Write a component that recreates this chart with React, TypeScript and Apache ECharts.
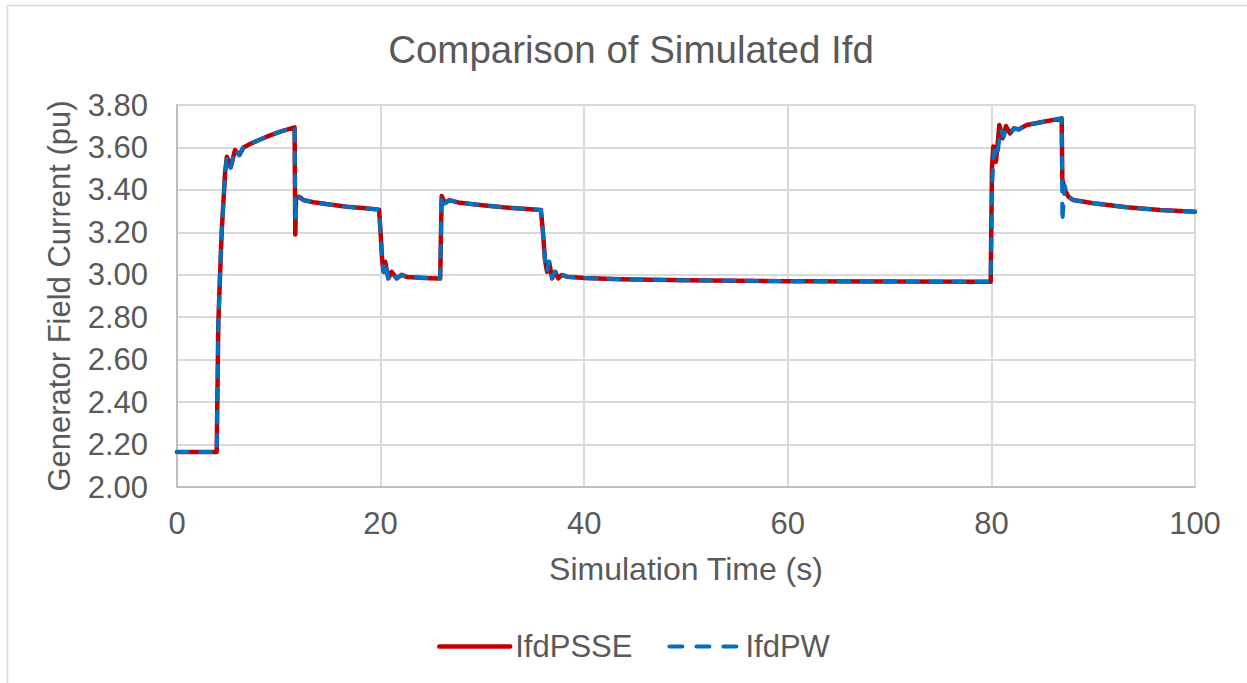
import React, { useEffect, useRef } from "react";
import * as echarts from "echarts";

const titleText = "Comparison of Simulated Ifd";
const xName = "Simulation Time (s)";
const yName = "Generator Field Current (pu)";
const xTicks = [0, 20, 40, 60, 80, 100];
const yTicks = [2.0, 2.2, 2.4, 2.6, 2.8, 3.0, 3.2, 3.4, 3.6, 3.8];

const tPSSE = [
  0, 3.9, 4.06, 4.22, 4.39, 4.72, 4.9, 5.27, 5.7, 6.12, 6.52, 7.17, 8.0, 9.14, 10.3, 11.55, 11.62, 11.7, 12.0, 12.4,
  13.4, 15.0, 16.7, 18.5, 19.85, 20.0, 20.15, 20.3, 20.45, 20.76, 21.09, 21.58, 22.07, 22.56, 23.5, 24.85, 25.85,
  26.0, 26.33, 26.75, 27.8, 30.0, 32.05, 34.0, 35.75, 35.95, 36.15, 36.35, 36.55, 36.85, 37.15, 37.45, 37.8, 38.3,
  40, 43.5, 50, 60, 70, 79.93, 80.06, 80.19, 80.45, 80.78, 81.1, 81.43, 81.83, 82.22, 82.65, 83.47, 85.0, 86.9,
  86.97, 87.23, 87.56, 88.05, 90.0, 93.3, 96.56, 100,
];
const vPSSE = [
  2.165, 2.165, 2.77, 2.99, 3.2, 3.48, 3.556, 3.506, 3.588, 3.564, 3.6, 3.616, 3.634, 3.657, 3.677, 3.695, 3.19, 3.365,
  3.368, 3.352, 3.342, 3.331, 3.321, 3.313, 3.307, 3.2, 3.07, 3.014, 3.061, 2.983, 3.014, 2.983, 3.0, 2.99, 2.987,
  2.984, 2.982, 3.371, 3.337, 3.352, 3.339, 3.328, 3.318, 3.311, 3.305, 3.2, 3.07, 3.014, 3.061, 2.983, 3.014, 2.983,
  2.999, 2.991, 2.985, 2.979, 2.974, 2.97, 2.968, 2.967, 3.51, 3.604, 3.533, 3.706, 3.643, 3.701, 3.666, 3.69, 3.685,
  3.706, 3.72, 3.737, 3.447, 3.4, 3.368, 3.352, 3.337, 3.318, 3.305, 3.297,
];

const tPW = [
  0, 3.9, 4.06, 4.22, 4.39, 4.72, 4.9, 5.27, 5.7, 6.12, 6.52, 7.17, 8.0, 9.14, 10.3, 11.55, 11.62, 11.75, 12.0, 12.4,
  13.4, 15.0, 16.7, 18.5, 19.85, 20.0, 20.15, 20.3, 20.45, 20.76, 21.09, 21.58, 22.07, 22.56, 23.5, 24.85, 25.85,
  26.0, 26.33, 26.75, 27.8, 30.0, 32.05, 34.0, 35.75, 35.95, 36.15, 36.35, 36.55, 36.85, 37.15, 37.45, 37.8, 38.3,
  40, 43.5, 50, 60, 70, 79.93, 80.1, 80.3, 80.55, 80.9, 81.2, 81.5, 81.9, 82.3, 82.65, 83.47, 85.0, 86.9,
  86.97, 87.2, 87.56, 88.05, 90.0, 93.3, 96.56, 100,
];
const vPW = [
  2.165, 2.165, 2.77, 2.99, 3.2, 3.48, 3.556, 3.506, 3.588, 3.564, 3.6, 3.616, 3.634, 3.657, 3.677, 3.695, 3.26, 3.35,
  3.37, 3.352, 3.342, 3.331, 3.321, 3.313, 3.307, 3.2, 3.07, 3.014, 3.061, 2.983, 3.014, 2.983, 3.0, 2.99, 2.987,
  2.984, 2.982, 3.371, 3.337, 3.352, 3.339, 3.328, 3.318, 3.311, 3.305, 3.2, 3.07, 3.014, 3.061, 2.983, 3.014, 2.983,
  2.999, 2.991, 2.985, 2.979, 2.974, 2.97, 2.968, 2.967, 3.46, 3.585, 3.55, 3.685, 3.65, 3.69, 3.67, 3.69, 3.685,
  3.706, 3.72, 3.737, 3.25, 3.42, 3.366, 3.352, 3.337, 3.318, 3.305, 3.297,
];

const FONT = "'Liberation Sans', Arial, sans-serif";
const TXT = "#595959";

export default function App() {
  const ref = useRef<HTMLDivElement>(null);
  useEffect(() => {
    if (!ref.current) return;
    const chart = echarts.init(ref.current, undefined, { renderer: "svg" });
    const pssePts = tPSSE.map((t, i) => [t, vPSSE[i]]);
    const pwPts = tPW.map((t, i) => [t, vPW[i]]);
    chart.setOption({
      animation: false,
      backgroundColor: "#ffffff",
      textStyle: { fontFamily: FONT, color: TXT },
      title: {
        text: titleText,
        left: 626,
        textAlign: "center",
        top: 25,
        textStyle: { fontFamily: FONT, fontSize: 38.5, fontWeight: "normal", color: TXT },
      },
      graphic: [
        {
          type: "rect",
          shape: { x: 7.5, y: 5.5, width: 1300, height: 720 },
          style: { fill: "none", stroke: "#d9d9d9", lineWidth: 1.5 },
          silent: true,
          z: -10,
        },
      ],
      legend: {
        left: 432,
        top: 626,
        itemWidth: 71,
        itemHeight: 14,
        itemGap: 35,
        itemStyle: { opacity: 0 },
        lineStyle: { width: 4.5, cap: "round" },
        textStyle: { fontFamily: FONT, fontSize: 31, color: TXT },
        data: [
          { name: "IfdPSSE", lineStyle: { width: 4.5, color: "#C00000", cap: "round" } },
          { name: "IfdPW", lineStyle: { width: 4, color: "#0070C0", type: [13, 14], cap: "round" } },
        ],
      },
      grid: { left: 177, top: 105, right: 52, bottom: 196, containLabel: false },
      xAxis: {
        type: "value",
        min: xTicks[0],
        max: xTicks[xTicks.length - 1],
        interval: xTicks[1] - xTicks[0],
        name: xName,
        nameLocation: "middle",
        nameGap: 66,
        nameTextStyle: { fontFamily: FONT, fontSize: 32, color: TXT },
        axisLine: { show: true, lineStyle: { color: "#bfbfbf", width: 2 } },
        axisTick: { show: false },
        axisLabel: { margin: 21, fontFamily: FONT, fontSize: 31, color: TXT },
        splitLine: { show: true, lineStyle: { color: "#d9d9d9", width: 2 } },
      },
      yAxis: {
        type: "value",
        min: yTicks[0],
        max: yTicks[yTicks.length - 1],
        interval: 0.2,
        name: yName,
        nameLocation: "middle",
        nameGap: 102,
        nameTextStyle: { fontFamily: FONT, fontSize: 31, color: TXT },
        axisLine: { show: true, lineStyle: { color: "#bfbfbf", width: 2 } },
        axisTick: { show: false },
        axisLabel: {
          margin: 29,
          fontFamily: FONT,
          fontSize: 31,
          color: TXT,
          formatter: (v: number) => v.toFixed(2),
        },
        splitLine: { show: true, lineStyle: { color: "#d9d9d9", width: 2 } },
      },
      series: [
        {
          name: "IfdPSSE",
          type: "line",
          data: pssePts,
          symbol: "none",
          lineStyle: { color: "#C00000", width: 4.5, cap: "round", join: "round" },
          itemStyle: { color: "#C00000" },
          z: 2,
        },
        {
          name: "IfdPW",
          type: "line",
          data: pwPts,
          symbol: "none",
          lineStyle: { color: "#0070C0", width: 4, type: [11, 12], cap: "round", join: "round" },
          itemStyle: { color: "#0070C0" },
          z: 3,
        },
      ],
    });
    return () => chart.dispose();
  }, []);
  return (
    <div
      ref={ref}
      style={{ position: "fixed", left: 0, top: 0, width: 1247, height: 683 }}
    />
  );
}
